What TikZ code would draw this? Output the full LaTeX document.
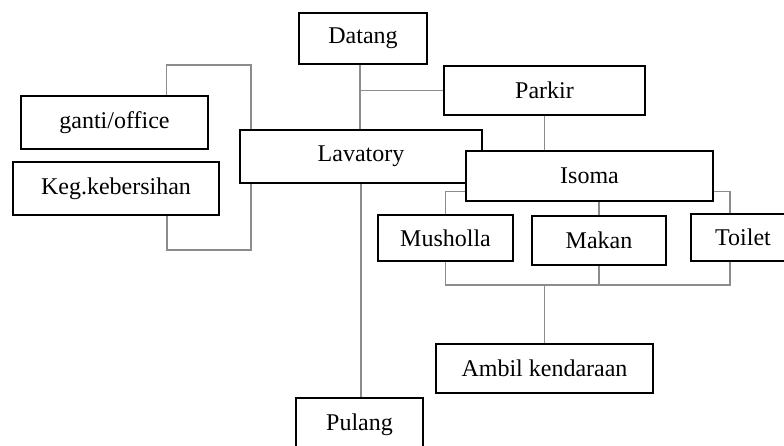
\documentclass[tikz,border=0pt]{standalone}
\usepackage{fontspec}
\setmainfont{Liberation Serif}
\usepackage{tikz}
\usetikzlibrary{positioning}
\definecolor{boxblack}{RGB}{0, 0, 0}
\definecolor{linegray}{RGB}{140, 140, 140}

\begin{document}
\begin{tikzpicture}[
    x=1pt, y=1pt,
    every node/.style={align=center},
    block/.style={rectangle, draw=boxblack, fill=white, line width=1.6pt, inner sep=0pt, text centered, font=\fontsize{24}{28}\selectfont},
    link/.style={draw=linegray, line width=1.2pt}
]
\useasboundingbox (0,0) rectangle (784,-446);
\clip (0,0) rectangle (784,-446);

% Process flow
\node[block, minimum width=128, minimum height=51] (datang) at (363,-38.5) {Datang};
\node[block, minimum width=201, minimum height=49] (parkir) at (544.5,-90.5) {Parkir};
\node[block, minimum width=187, minimum height=53] (ganti) at (114.5,-122.5) {ganti/office};
\node[block, minimum width=206, minimum height=53] (keg) at (116,-188.5) {Keg.kebersihan};
\node[block, minimum width=242, minimum height=53] (lavatory) at (361,-156.5) {Lavatory};
\node[block, minimum width=247, minimum height=50] (isoma) at (589.5,-176) {Isoma};
\node[block, minimum width=135, minimum height=46] (musholla) at (445.5,-238) {Musholla};
\node[block, minimum width=134, minimum height=49] (makan) at (599,-240.5) {Makan};
\node[block, minimum width=104, minimum height=47] (toilet) at (743,-237.5) {Toilet};
\node[block, minimum width=217, minimum height=49] (ambil) at (544.5,-368.5) {Ambil kendaraan};
\node[block, minimum width=127, minimum height=54] (pulang) at (359.5,-425) {Pulang};

\coordinate (gtop) at (251,-65);
\coordinate (kbot) at (251,-250);
\coordinate (join) at (544.5,-285);

% Lines
\draw[link] ([xshift=-3pt]datang.south) -- ([xshift=-3pt]datang.south |- lavatory.north);
\draw[link] ([xshift=-3pt]datang.south |- parkir.west) -- (parkir.west);
\draw[link] (parkir.south) -- (parkir.south |- isoma.north);
\draw[link] ([xshift=52pt]ganti.north) |- (gtop) -- (gtop |- lavatory.north);
\draw[link] ([xshift=51pt]keg.south) |- (kbot) -- (kbot |- lavatory.south);
\draw[link] (lavatory.south) -- (lavatory.south |- pulang.north);
\draw[link] ([yshift=10pt]isoma.south west) -| (musholla.north);
\draw[link] ([yshift=10pt]isoma.south east) -| ([xshift=-13pt]toilet.north);
\draw[link] (makan.north |- isoma.south) -- (makan.north);
\draw[link] (musholla.south) |- (join) -| ([xshift=-13pt]toilet.south);
\draw[link] (makan.south) -- (makan.south |- join);
\draw[link] (join) -- (ambil.north);

\end{tikzpicture}
\end{document}
